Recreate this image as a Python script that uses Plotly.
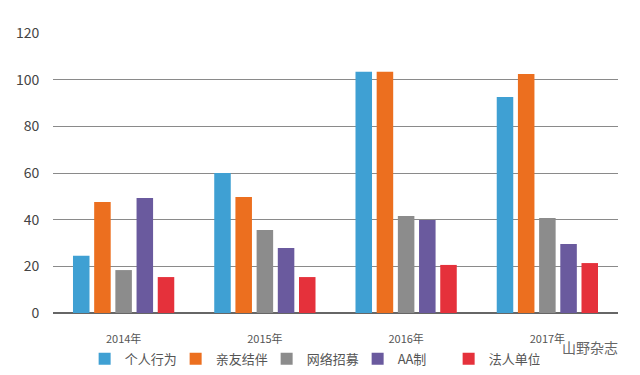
import plotly.graph_objects as go

years = ["2014年", "2015年", "2016年", "2017年"]
series_names = ["个人行为", "亲友结伴", "网络招募", "AA制", "法人单位"]
geren = [24.5, 60.0, 103.4, 92.6]
qinyou = [47.6, 49.7, 103.4, 102.4]
wangluo = [18.4, 35.6, 41.6, 40.7]
aa = [49.3, 27.9, 39.9, 29.6]
faren = [15.4, 15.4, 20.6, 21.4]
y_ticks = [0, 20, 40, 60, 80, 100, 120]

colors = ["#3fa0d3", "#ec6f1f", "#8c8c8c", "#6a5a9e", "#e5313b"]
values = [geren, qinyou, wangluo, aa, faren]

fig = go.Figure()
for name, vals, c in zip(series_names, values, colors):
    fig.add_trace(go.Bar(x=years, y=vals, name=name, marker=dict(color=c, line=dict(width=0))))

font_family = "Noto Sans CJK SC, Noto Sans, DejaVu Sans"
fig.update_layout(
    width=632, height=367,
    margin=dict(l=45, r=22, t=25, b=62, autoexpand=False),
    paper_bgcolor="white", plot_bgcolor="white",
    barmode="group", bargap=0.25, bargroupgap=0.22,
    font=dict(family=font_family, color="#444444"),
    showlegend=True,
    legend=dict(orientation="h", x=0.056, xanchor="left", y=-0.11, yanchor="top",
                font=dict(size=13, color="#555555"), itemwidth=30,
                entrywidth=46, entrywidthmode="pixels", tracegroupgap=0),
    xaxis=dict(showgrid=False, ticks="outside", ticklen=16, tickcolor="rgba(0,0,0,0)",
               tickfont=dict(size=11, color="#555555"), showline=False, automargin=False),
    yaxis=dict(range=[0, 120], tickvals=y_ticks, showgrid=True, gridcolor="#8a8a8a", gridwidth=1,
               zeroline=True, zerolinecolor="#666666", zerolinewidth=1.5,
               tickfont=dict(size=14, color="#444444"), ticks="outside", ticklen=10,
               tickcolor="rgba(0,0,0,0)", automargin=False),
)
fig.add_annotation(text="山野杂志", x=1.0035, xref="paper", y=-0.12, yref="paper",
                   xanchor="right", yanchor="middle", showarrow=False,
                   font=dict(size=14, color="#666666", family=font_family))
fig.write_html("out.html")
